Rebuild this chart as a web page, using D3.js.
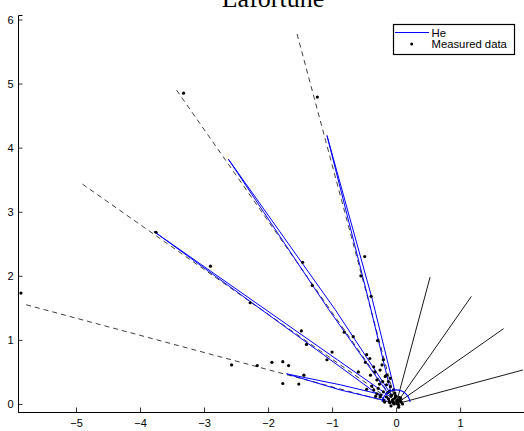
<!DOCTYPE html>
<html>
<head>
<meta charset="utf-8">
<script src="https://cdn.jsdelivr.net/npm/d3@7"></script>
<style>
  html, body { margin: 0; padding: 0; background: #fff; }
  svg { display: block; }
</style>
</head>
<body>
<div id="chart"></div>
<script>
// ---------------- data ----------------
const titleText = "Lafortune";
const xTicks = [-5, -4, -3, -2, -1, 0, 1];
const yTicks = [0, 1, 2, 3, 4, 5, 6];
const xDomain = [-5.906, 2.06];
const yDomain = [-0.125, 6.07];

// reflection (mirror) directions, degrees, drawn dashed
const reflAngles = [105, 125, 145, 165];
const reflLength = 6;
// incident directions, degrees, drawn solid black
const incAngles = [75, 55, 35, 15];
const incLength = 2.05;
// diffuse part of the fitted model (blue arc)
const diffuseRadius = 0.22;
const diffuseArc = [8, 172];

// fitted lobes (blue), outline points [x, y]
const lobeA = [[-0.09, 0.22], [-0.43, 1.625], [-1.08, 4.19], [-0.37, 1.625], [-0.02, 0.20]];
const lobeB = [[-0.15, 0.20], [-1.05, 1.47], [-2.62, 3.82], [-0.95, 1.47], [-0.06, 0.12]];
const lobeC = [[-0.10, 0.12], [-0.875, 0.66], [-3.78, 2.69], [-0.875, 0.58], [-0.15, 0.05]];
const lobeD = [[-0.20, 0.14], [-0.875, 0.30], [-1.71, 0.47], [-0.875, 0.22], [-0.20, 0.06]];
const lobes = [lobeA, lobeB, lobeC, lobeD];

// measured data points
const measuredX = [-5.86, -3.32, -1.23, -3.75, -2.90, -2.28, -1.46, -1.31, -1.48, -1.40,
  -1.00, -1.08, -0.81, -2.57, -2.17, -1.94, -1.77, -1.68, -1.44, -1.77, -1.52,
  -0.49, -0.55, -0.39, -0.67, -0.29, -0.46, -0.41, -0.48, -0.20, -0.35, -0.33,
  -0.59, -0.40, -0.25, -0.15, -0.30, -0.21, -0.12, -0.46, -0.35, -0.28, -0.20,
  -0.09, -0.15, -0.07, -0.02, 0.01, 0.06, 0.04, -0.04, -0.20, -0.25, -0.04,
  -0.02, -0.17, -0.22, -0.09, -0.15, -0.10, -0.05, 0.02, -0.12, -0.30, -0.38,
  0.00, 0.03, -0.06, -0.13, 0.05,
  -0.11, -0.08, -0.03, 0.08, 0.10, -0.01, 0.07, -0.10, -0.05, 0.02, -0.18, -0.24,
  -0.32, -0.26, 0.04, -0.08];
const measuredY = [1.73, 4.85, 4.79, 2.68, 2.15, 1.58, 2.21, 1.85, 1.14, 0.93,
  0.81, 0.69, 1.12, 0.61, 0.60, 0.65, 0.66, 0.60, 0.45, 0.32, 0.31,
  2.30, 2.00, 1.68, 1.05, 0.99, 0.77, 0.71, 0.65, 0.69, 0.58, 0.50,
  0.50, 0.45, 0.53, 0.45, 0.375, 0.35, 0.35, 0.23, 0.22, 0.245, 0.19,
  0.27, 0.11, 0.14, 0.09, 0.04, 0.06, -0.02, 0.01, 0.06, 0.11, 0.22,
  0.17, 0.43, 0.61, 0.40, 0.30, 0.02, 0.03, 0.00, 0.08, 0.16, 0.28,
  0.12, 0.02, 0.05, 0.18, 0.10,
  0.04, 0.12, 0.00, 0.03, 0.00, 0.13, 0.09, 0.20, 0.07, 0.06, 0.03, 0.14,
  0.12, 0.31, -0.05, -0.03];

const legendLabels = ["He", "Measured data"];

// ---------------- drawing ----------------
const W = 524, H = 431;
const plot = { left: 18, right: 528, top: 15, bottom: 412 };
const sans = "'Liberation Sans', Arial, sans-serif";
const serif = "'Liberation Serif', 'Times New Roman', serif";

const x = d3.scaleLinear().domain(xDomain).range([plot.left, plot.right]);
const y = d3.scaleLinear().domain(yDomain).range([plot.bottom, plot.top]);

const svg = d3.select("#chart").append("svg")
  .attr("width", W).attr("height", H);

svg.append("defs").append("clipPath").attr("id", "clip")
  .append("rect")
  .attr("x", plot.left).attr("y", plot.top)
  .attr("width", plot.right - plot.left).attr("height", plot.bottom - plot.top);

const g = svg.append("g").attr("clip-path", "url(#clip)");
const rad = d => d * Math.PI / 180;
const line = d3.line().x(d => x(d[0])).y(d => y(d[1]));

// dashed reflection directions
g.selectAll("line.refl").data(reflAngles).enter().append("line")
  .attr("class", "refl")
  .attr("x1", x(0)).attr("y1", y(0))
  .attr("x2", a => x(reflLength * Math.cos(rad(a))))
  .attr("y2", a => y(reflLength * Math.sin(rad(a))))
  .attr("stroke", "#2a2a2a").attr("stroke-width", 0.9)
  .attr("stroke-dasharray", "5,4");

// fitted lobes
g.selectAll("path.lobe").data(lobes).enter().append("path")
  .attr("class", "lobe")
  .attr("d", line)
  .attr("fill", "none").attr("stroke", "#0000ff").attr("stroke-width", 1);

// incident directions
g.selectAll("line.inc").data(incAngles).enter().append("line")
  .attr("class", "inc")
  .attr("x1", x(0)).attr("y1", y(0))
  .attr("x2", a => x(incLength * Math.cos(rad(a))))
  .attr("y2", a => y(incLength * Math.sin(rad(a))))
  .attr("stroke", "#000").attr("stroke-width", 0.9);

// measured points
const pts = measuredX.map((v, i) => [v, measuredY[i]]);
g.selectAll("circle.pt").data(pts).enter().append("circle")
  .attr("class", "pt")
  .attr("cx", d => x(d[0])).attr("cy", d => y(d[1]))
  .attr("r", 1.6).attr("fill", "#000");

// diffuse arc
const rpx = x(diffuseRadius) - x(0);
const p = d3.path();
p.arc(x(0), y(0), rpx, -rad(diffuseArc[0]), -rad(diffuseArc[1]), true);
g.append("path").attr("d", p.toString())
  .attr("fill", "none").attr("stroke", "#0000ff").attr("stroke-width", 1.2);

// axes
const xAxis = d3.axisBottom(x).tickValues(xTicks).tickSize(-4.5).tickPadding(7)
  .tickFormat(d => d < 0 ? "\u2212" + Math.abs(d) : String(d));
const yAxis = d3.axisLeft(y).tickValues(yTicks).tickSize(-4.5).tickPadding(5)
  .tickFormat(d3.format("d"));

const gx = svg.append("g").attr("transform", `translate(0,${plot.bottom})`).call(xAxis);
const gy = svg.append("g").attr("transform", `translate(${plot.left},0)`).call(yAxis);
[gx, gy].forEach(ax => {
  ax.select(".domain").attr("stroke", "#000").attr("stroke-width", 1);
  ax.selectAll(".tick line").attr("stroke", "#000").attr("stroke-width", 0.8);
  ax.selectAll(".tick text").attr("fill", "#000")
    .style("font-size", "11px").style("font-family", sans);
});
gy.selectAll(".tick text").attr("x", -4.5);

// title
svg.append("text").attr("x", (plot.left + plot.right) / 2).attr("y", 7)
  .attr("text-anchor", "middle")
  .style("font-family", serif)
  .style("font-size", "26px").attr("fill", "#000").text(titleText);

// legend
const lg = svg.append("g");
lg.append("rect").attr("x", 393.5).attr("y", 24.5).attr("width", 121).attr("height", 30)
  .attr("fill", "#fff").attr("stroke", "#000").attr("stroke-width", 1.2);
lg.append("line").attr("x1", 395).attr("x2", 429).attr("y1", 32.5).attr("y2", 32.5)
  .attr("stroke", "#0000ff").attr("stroke-width", 1);
lg.append("circle").attr("cx", 411.7).attr("cy", 44).attr("r", 1.5).attr("fill", "#000");
lg.selectAll("text").data(legendLabels).enter().append("text")
  .attr("x", 431.5).attr("y", (d, i) => 36.5 + i * 11.5)
  .style("font-size", "11.3px").style("font-family", sans)
  .attr("fill", "#000").text(d => d);
</script>
</body>
</html>
